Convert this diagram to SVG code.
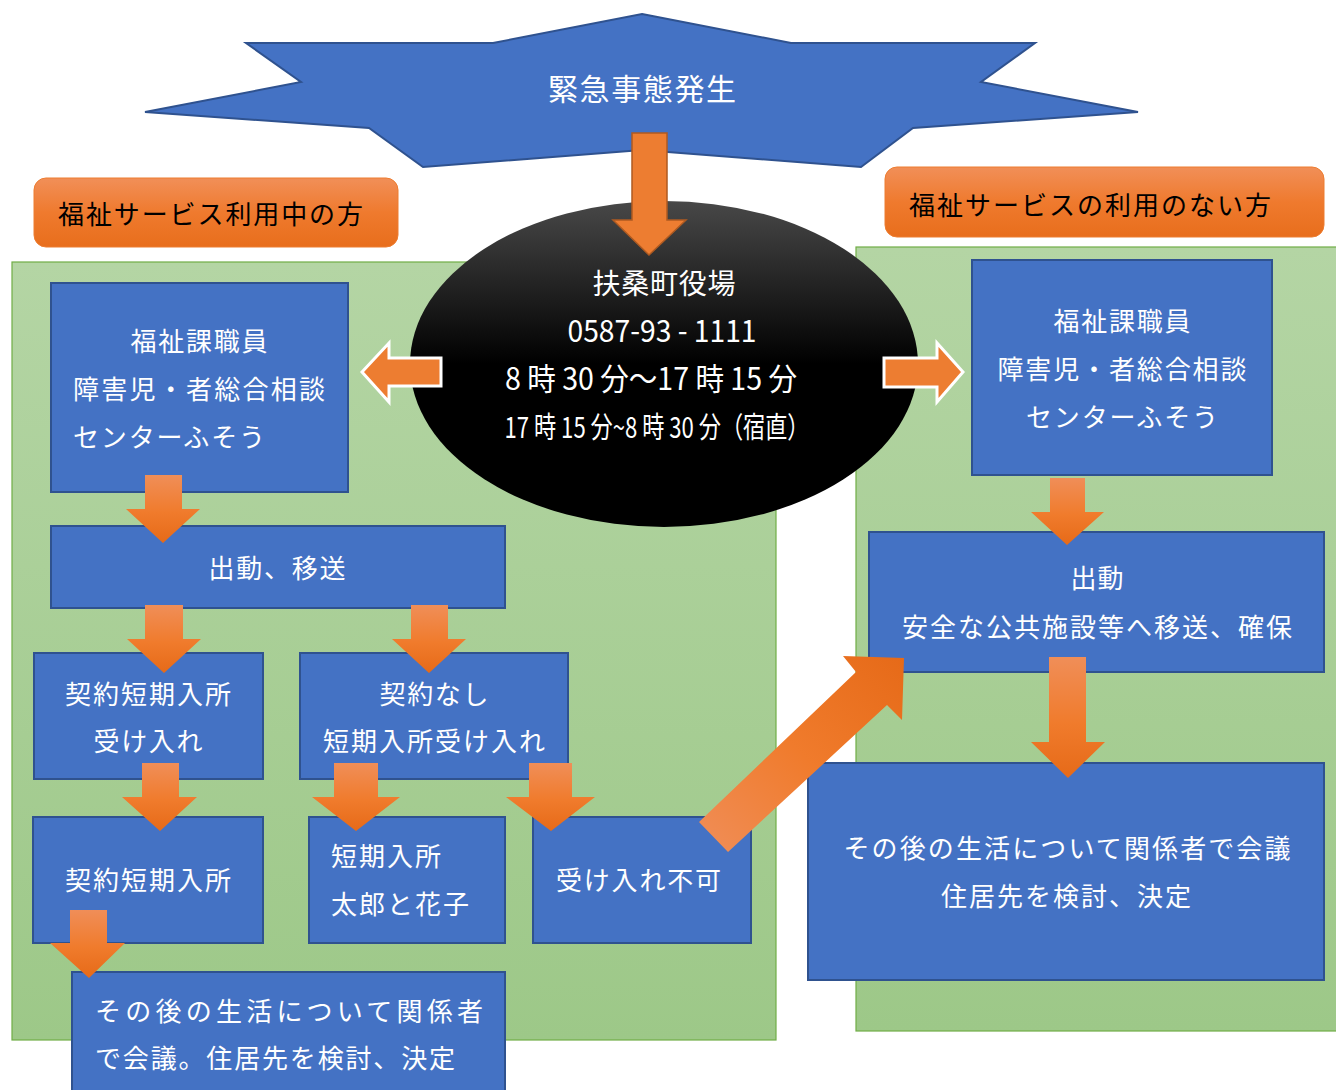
<svg xmlns="http://www.w3.org/2000/svg" width="1336" height="1090" viewBox="0 0 1336 1090">
<defs>
<linearGradient id="gArrow" x1="0" y1="0" x2="0" y2="1">
<stop offset="0" stop-color="#F08E58"/><stop offset="0.55" stop-color="#F07B2C"/><stop offset="1" stop-color="#E66A18"/>
</linearGradient>
<linearGradient id="gDiag" x1="0" y1="1" x2="1" y2="0">
<stop offset="0" stop-color="#F08E58"/><stop offset="0.5" stop-color="#F07B2C"/><stop offset="1" stop-color="#E66A18"/>
</linearGradient>
<linearGradient id="gLabel" x1="0" y1="0" x2="0" y2="1">
<stop offset="0" stop-color="#F18F58"/><stop offset="0.5" stop-color="#EF7A2E"/><stop offset="1" stop-color="#E86E1C"/>
</linearGradient>
<linearGradient id="gGreen" x1="0" y1="0" x2="0" y2="1">
<stop offset="0" stop-color="#B4D5A4"/><stop offset="1" stop-color="#9DC888"/>
</linearGradient>
<linearGradient id="gEll" x1="0" y1="0" x2="0" y2="1">
<stop offset="0" stop-color="#484848"/><stop offset="0.5" stop-color="#000000"/><stop offset="1" stop-color="#000000"/>
</linearGradient>
</defs>
<style>
text{font-family:"Noto Sans CJK JP","Noto Sans",sans-serif;}
.panel{fill:url(#gGreen);stroke:#70AD47;stroke-width:1.2;}
.box{fill:#4472C4;stroke:#2F528F;stroke-width:2;}
.wt{fill:#FFFFFF;font-size:26px;}
.lbl{fill:url(#gLabel);stroke:#ED7D31;stroke-width:1;}
.lt{fill:#000000;font-size:26px;}
.arr{fill:url(#gArrow);stroke:none;}
.side{fill:#ED7D31;stroke:#FFFFFF;stroke-width:3;stroke-linejoin:miter;}
.et{fill:#FFFFFF;font-size:28px;}
</style>

<g id="panels">
<rect class="panel" x="12" y="262" width="764" height="778"/>
<rect class="panel" x="856" y="247" width="490" height="784"/>
</g>

<g id="star">
<polygon points="642,14 791,43 1035,43 981,82 1138,112 913,128 861,167 642,150 423,167 369,128 145,112 301,82 246,43 493,43" fill="#4472C4" stroke="#2F528F" stroke-width="2"/>
<text class="wt" x="642" y="100" text-anchor="middle" style="font-size:30px" textLength="188">緊急事態発生</text>
</g>

<g id="label-left">
<rect class="lbl" x="34" y="178" width="364" height="69" rx="12"/>
<text class="lt" x="58" y="224" textLength="305">福祉サービス利用中の方</text>
</g>

<g id="label-right">
<rect class="lbl" x="885" y="167" width="439" height="70" rx="12"/>
<text class="lt" x="909" y="215" textLength="362">福祉サービスの利用のない方</text>
</g>

<g id="office">
<ellipse cx="664" cy="364" rx="254" ry="163" fill="url(#gEll)"/>
<text class="et" x="664" y="294" text-anchor="middle" textLength="143">扶桑町役場</text>
<text class="et" x="662" y="342" text-anchor="middle" style="font-size:31px" textLength="189" lengthAdjust="spacingAndGlyphs">0587-93 - 1111</text>
<text class="et" x="651" y="390" text-anchor="middle" style="font-size:31px" textLength="292" lengthAdjust="spacingAndGlyphs">8 時 30 分～17 時 15 分</text>
<text class="et" x="657" y="438" text-anchor="middle" style="font-size:29px" textLength="305" lengthAdjust="spacingAndGlyphs">17 時 15 分~8 時 30 分（宿直）</text>
</g>

<g id="left-staff">
<rect class="box" x="51" y="283" width="297" height="209"/>
<text class="wt" x="199" y="351" text-anchor="middle" textLength="137">福祉課職員</text>
<text class="wt" x="199" y="399" text-anchor="middle" textLength="252">障害児・者総合相談</text>
<text class="wt" x="73" y="447" textLength="192">センターふそう</text>
</g>

<g id="left-dispatch">
<rect class="box" x="51" y="526" width="454" height="82"/>
<text class="wt" x="277" y="578" text-anchor="middle" textLength="137">出動、移送</text>
</g>

<g id="left-contract">
<rect class="box" x="34" y="653" width="229" height="126"/>
<text class="wt" x="148" y="704" text-anchor="middle" textLength="166">契約短期入所</text>
<text class="wt" x="148" y="751" text-anchor="middle" textLength="109">受け入れ</text>
</g>

<g id="left-nocontract">
<rect class="box" x="300" y="653" width="268" height="126"/>
<text class="wt" x="434" y="704" text-anchor="middle" textLength="109">契約なし</text>
<text class="wt" x="434" y="751" text-anchor="middle" textLength="222">短期入所受け入れ</text>
</g>

<g id="left-contract-stay">
<rect class="box" x="33" y="817" width="230" height="126"/>
<text class="wt" x="148" y="890" text-anchor="middle" textLength="166">契約短期入所</text>
</g>

<g id="left-short-stay">
<rect class="box" x="309" y="817" width="196" height="126"/>
<text class="wt" x="331" y="866" textLength="110">短期入所</text>
<text class="wt" x="331" y="914" textLength="138">太郎と花子</text>
</g>

<g id="left-refused">
<rect class="box" x="533" y="817" width="218" height="126"/>
<text class="wt" x="556" y="890" textLength="165">受け入れ不可</text>
</g>

<g id="left-meeting">
<rect class="box" x="72" y="972" width="433" height="130"/>
<text class="wt" x="95" y="1021" textLength="388">その後の生活について関係者</text>
<text class="wt" x="95" y="1068" textLength="360">で会議。住居先を検討、決定</text>
</g>

<g id="right-staff">
<rect class="box" x="972" y="260" width="300" height="215"/>
<text class="wt" x="1122" y="331" text-anchor="middle" textLength="137">福祉課職員</text>
<text class="wt" x="1122" y="379" text-anchor="middle" textLength="249">障害児・者総合相談</text>
<text class="wt" x="1122" y="427" text-anchor="middle" textLength="192">センターふそう</text>
</g>

<g id="right-dispatch">
<rect class="box" x="869" y="532" width="455" height="140"/>
<text class="wt" x="1097" y="588" text-anchor="middle" textLength="53">出動</text>
<text class="wt" x="1097" y="637" text-anchor="middle" textLength="390">安全な公共施設等へ移送、確保</text>
</g>

<g id="right-meeting">
<rect class="box" x="808" y="763" width="516" height="217"/>
<text class="wt" x="1067" y="858" text-anchor="middle" textLength="447">その後の生活について関係者で会議</text>
<text class="wt" x="1066" y="906" text-anchor="middle" textLength="250">住居先を検討、決定</text>
</g>

<g id="connectors">
<polygon points="632,133 667,133 667,220 686,220 649,255 613,220 632,220" fill="#ED7D31" stroke="#AE5A21" stroke-width="1.5"/>
<polygon class="side" points="441,358 389,358 389,343 362,372 389,402 389,386 441,386"/>
<polygon class="side" points="884,358 937,358 937,343 963,372 937,402 937,387 884,387"/>
<polygon class="arr" points="145,475 182,475 182,509 200,509 163,543 126,509 145,509"/>
<polygon class="arr" points="145,605 183,605 183,639 201,639 164,673 127,639 145,639"/>
<polygon class="arr" points="411,605 448,605 448,639 466,639 429,673 392,639 411,639"/>
<polygon class="arr" points="142,763 179,763 179,797 197,797 160,831 122,797 142,797"/>
<polygon class="arr" points="334,763 378,763 378,797 400,797 356,831 312,797 334,797"/>
<polygon class="arr" points="529,763 572,763 572,797 595,797 551,831 506,797 529,797"/>
<polygon class="arr" points="70,910 107,910 107,943 125,943 89,978 50,943 70,943"/>
<polygon class="arr" points="1050,478 1085,478 1085,512 1104,512 1067,545 1031,512 1050,512"/>
<polygon class="arr" points="1049,657 1086,657 1086,742 1105,742 1068,778 1031,742 1049,742"/>
<polygon points="699,822 856,672 843,656 904,658 902,720 887,705 728,852" fill="url(#gDiag)"/>
</g>
</svg>
